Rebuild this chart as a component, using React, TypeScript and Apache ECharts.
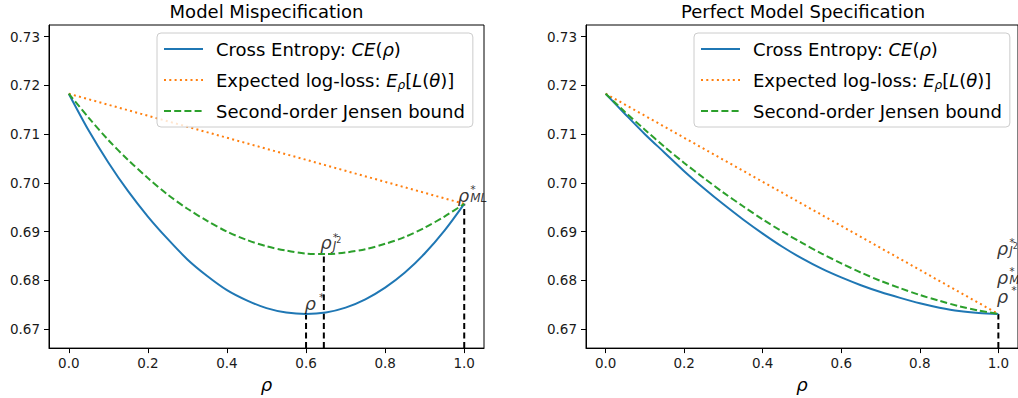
import React, { useEffect, useRef } from "react";
import * as echarts from "echarts";

// ---- data ----
const rho = [0, 0.05, 0.1, 0.15, 0.2, 0.25, 0.3, 0.35, 0.4, 0.45, 0.5, 0.55, 0.6, 0.65, 0.7, 0.75, 0.8, 0.85, 0.9, 0.95, 1.0];
const rhoEnds = [0, 1];

// Model Mispecification (left)
const ceMis = [0.7183, 0.7108, 0.7042, 0.6983, 0.6931, 0.6885, 0.6843, 0.6809, 0.678, 0.6759, 0.6743, 0.6734, 0.6731, 0.6734, 0.6744, 0.6761, 0.6785, 0.6816, 0.6855, 0.6902, 0.6957];
const elMis = [0.7183, 0.6957];
const jbMis = [0.7183, 0.7134, 0.7088, 0.7047, 0.701, 0.6976, 0.6947, 0.6922, 0.69, 0.6883, 0.687, 0.6861, 0.6855, 0.6854, 0.6857, 0.6864, 0.6875, 0.6889, 0.6908, 0.6931, 0.6957];

// Perfect Model Specification (right)
const cePer = [0.7183, 0.7141, 0.71, 0.7062, 0.7024, 0.6989, 0.6956, 0.6925, 0.6896, 0.6869, 0.6845, 0.6824, 0.6806, 0.679, 0.6776, 0.6764, 0.6753, 0.6744, 0.6737, 0.6733, 0.6731];
const elPer = [0.7183, 0.6731];
const jbPer = [0.7183, 0.7145, 0.7109, 0.7074, 0.7041, 0.701, 0.698, 0.6952, 0.6925, 0.69, 0.6877, 0.6855, 0.6835, 0.6816, 0.6799, 0.6784, 0.677, 0.6758, 0.6747, 0.6738, 0.6731];

// optimum markers [rho, value]
const optStarMis = [0.6, 0.6731];
const optJ2Mis = [0.645, 0.6854];
const optMLMis = [1.0, 0.6957];
const optPer = [1.0, 0.6731];

const xTicks = [0, 0.2, 0.4, 0.6, 0.8, 1.0];
const yTicks = [0.67, 0.68, 0.69, 0.7, 0.71, 0.72, 0.73];
const xMin = -0.05, xMax = 1.05;
const yMin = 0.6661, yMax = 0.7324;

const titles = ["Model Mispecification", "Perfect Model Specification"];
const names = ["Cross Entropy: CE(ρ)", "Expected log-loss: E_ρ[L(θ)]", "Second-order Jensen bound"];
const legendRich: Record<string, string> = {
  [names[0]]: "Cross Entropy: {i|CE}({i|ρ})",
  [names[1]]: "Expected log-loss: {i|E}{sub|ρ}[{i|L}({i|θ})]",
  [names[2]]: "Second-order Jensen bound",
};

const BLUE = "#1f77b4", ORANGE = "#ff7f0e", GREEN = "#2ca02c";
const FONT = "DejaVu Sans";

const pairs = (xs: number[], ys: number[]) => xs.map((x, i) => [x, ys[i]]);

const mathRich = {
  r: { fontFamily: FONT, fontStyle: "italic", fontSize: 18, color: "#000", lineHeight: 22, verticalAlign: "bottom" },
  sup: { fontFamily: FONT, fontSize: 11, color: "#000", lineHeight: 22, verticalAlign: "top", padding: [2, 0, 0, 3] },
  supz: { fontFamily: FONT, fontSize: 11, color: "#000", lineHeight: 22, verticalAlign: "top", width: 0, padding: [2, 0, 0, 1] },
  sub: { fontFamily: FONT, fontStyle: "italic", fontSize: 12, color: "#000", lineHeight: 22, verticalAlign: "bottom" },
  sub2: { fontFamily: FONT, fontSize: 8, color: "#000", lineHeight: 22, verticalAlign: "bottom", padding: [0, 0, 7, 0] },
};

export default function App() {
  const ref = useRef<HTMLDivElement>(null);
  useEffect(() => {
    if (!ref.current) return;
    const chart = echarts.init(ref.current, undefined, { renderer: "svg" });

    const grids = [
      { left: 49, top: 25, width: 435, height: 324 },
      { left: 586, top: 25, width: 435, height: 324 },
    ];

    const xAxis = grids.map((_, gi) => ({
      type: "value",
      gridIndex: gi,
      min: xMin,
      max: xMax,
      name: "ρ",
      nameLocation: "middle",
      nameGap: 22,
      nameTextStyle: { fontFamily: FONT, fontStyle: "italic", fontSize: 18, color: "#000" },
      splitLine: { show: false },
      axisLine: { show: true, onZero: false, lineStyle: { color: "#000", width: 1 } },
      axisTick: { show: true, length: 5, inside: false, customValues: xTicks, lineStyle: { color: "#000", width: 1 } },
      axisLabel: {
        customValues: xTicks,
        formatter: (v: number) => v.toFixed(1),
        fontFamily: FONT,
        fontSize: 13.5,
        color: "#1a1a1a",
        margin: 8,
      },
    }));
    const yAxis = grids.map((_, gi) => ({
      type: "value",
      gridIndex: gi,
      min: yMin,
      max: yMax,
      splitLine: { show: false },
      axisLine: { show: true, onZero: false, lineStyle: { color: "#000", width: 1 } },
      axisTick: { show: true, length: 5, inside: false, customValues: yTicks, lineStyle: { color: "#000", width: 1 } },
      axisLabel: {
        customValues: yTicks,
        formatter: (v: number) => v.toFixed(2),
        fontFamily: FONT,
        fontSize: 13.5,
        color: "#1a1a1a",
        margin: 9,
      },
    }));

    const curve = (name: string, gi: number, data: number[][], color: string, type: any, smooth: boolean) => ({
      type: "line",
      name,
      xAxisIndex: gi,
      yAxisIndex: gi,
      data,
      symbol: "none",
      smooth: smooth ? 0.3 : false,
      lineStyle: { color, width: 2, type },
      itemStyle: { color },
      z: 3,
    });

    const vline = (gi: number, pt: number[]) => ({
      type: "line",
      xAxisIndex: gi,
      yAxisIndex: gi,
      data: [[pt[0], yMin], [pt[0], pt[1]]],
      symbol: "none",
      lineStyle: { color: "#000", width: 2, type: [6, 3.5] },
      z: 2,
      silent: true,
    });

    const note = (gi: number, pt: number[], text: string, offset: number[]) => ({
      type: "scatter",
      xAxisIndex: gi,
      yAxisIndex: gi,
      symbolSize: 1,
      itemStyle: { color: "rgba(0,0,0,0)" },
      silent: true,
      z: 5,
      data: [
        {
          value: pt,
          label: {
            show: true,
            position: [0, 0],
            align: "left",
            verticalAlign: "bottom",
            offset,
            formatter: text,
            rich: mathRich,
          },
        },
      ],
    });

    const starTxt = "{r|ρ}{sup|*}";
    const mlTxt = "{r|ρ}{supz|*}{sub|ML}";
    const j2Txt = "{r|ρ}{supz|*}{sub|J}{sub2|2}";

    const series: any[] = [
      curve(names[0], 0, pairs(rho, ceMis), BLUE, "solid", true),
      curve(names[1], 0, pairs(rhoEnds, elMis), ORANGE, [2, 3.3], false),
      curve(names[2], 0, pairs(rho, jbMis), GREEN, [7, 3.2], true),
      vline(0, optStarMis),
      vline(0, optJ2Mis),
      vline(0, optMLMis),
      note(0, optStarMis, starTxt, [-1, -1]),
      note(0, optJ2Mis, j2Txt, [-3, -2]),
      note(0, optMLMis, mlTxt, [-6, 1]),
      curve(names[0], 1, pairs(rho, cePer), BLUE, "solid", true),
      curve(names[1], 1, pairs(rhoEnds, elPer), ORANGE, [2, 3.3], false),
      curve(names[2], 1, pairs(rho, jbPer), GREEN, [7, 3.2], true),
      vline(1, optPer),
      note(1, optPer, starTxt, [-1, -8]),
      note(1, optPer, mlTxt, [-1, -27]),
      note(1, optPer, j2Txt, [-1, -56]),
    ];

    const legend = [157, 694].map((left) => ({
      data: names,
      orient: "vertical",
      left,
      top: 33,
      itemWidth: 39,
      itemHeight: 22,
      itemGap: 9,
      padding: [5, 8, 5, 6],
      backgroundColor: "rgba(255,255,255,0.8)",
      borderColor: "#cccccc",
      borderWidth: 1,
      borderRadius: 4,
      itemStyle: { opacity: 0 },
      formatter: (n: string) => legendRich[n],
      selectedMode: false,
      textStyle: {
        fontFamily: FONT,
        fontSize: 18,
        color: "#000",
        lineHeight: 22,
        padding: [0, 0, 0, 8],
        rich: {
          i: { fontFamily: FONT, fontStyle: "italic", fontSize: 18, color: "#000", lineHeight: 22 },
          sub: { fontFamily: FONT, fontStyle: "italic", fontSize: 12, color: "#000", lineHeight: 22, verticalAlign: "bottom" },
        },
      },
    }));

    chart.setOption({
      animation: false,
      backgroundColor: "#ffffff",
      grid: grids.map((g) => ({ ...g, show: true, borderColor: "#000", borderWidth: 1, backgroundColor: "transparent", containLabel: false })),
      xAxis,
      yAxis,
      legend,
      series,
      graphic: titles.map((t, i) => ({
        type: "text",
        x: i === 0 ? 266.5 : 803,
        y: 2,
        style: { text: t, fontFamily: FONT, fontSize: 18, fill: "#000", textAlign: "center", textVerticalAlign: "top" },
      })),
    });
    return () => chart.dispose();
  }, []);
  return <div ref={ref} style={{ position: "absolute", left: 0, top: 0, width: 1018, height: 398 }} />;
}
